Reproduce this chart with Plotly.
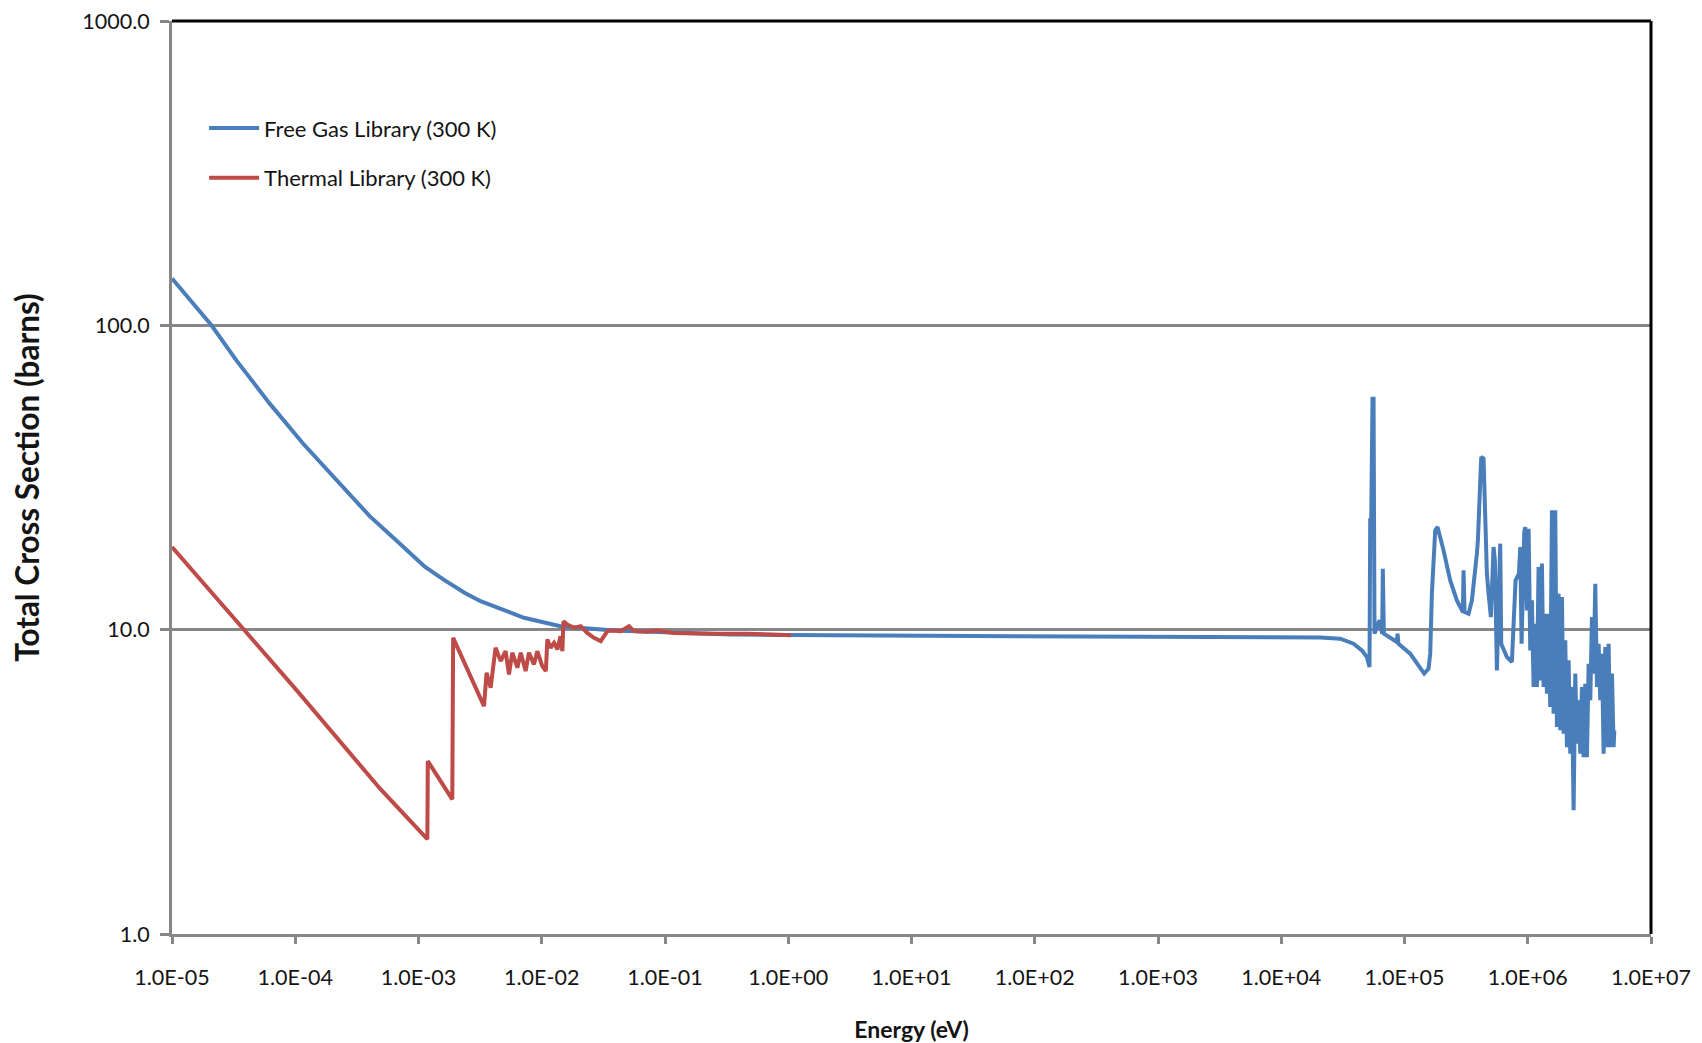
import plotly.graph_objects as go

# ---- data ----
# Free gas library, 1e-5 eV up to ~0.94 MeV
free_gas_energy = [1.0e-5, 2.09e-5, 3.33e-5, 6.21e-5, 1.156e-4, 2.16e-4, 4.02e-4, 6.82e-4, 1.125e-3,
                   1.6e-3, 2.38e-3, 3.19e-3, 7.18e-3, 1.42e-2, 3.86e-2, 1.0e-1, 3.4e-1, 1.0, 1.0e1,
                   1.0e2, 1.0e3, 1.0e4,
                   2.07e4, 3.01e4, 3.86e4, 4.51e4, 4.95e4, 5.20e4, 5.27e4, 5.37e4, 5.50e4, 5.61e4,
                   5.71e4, 5.97e4, 6.27e4, 6.59e4, 6.67e4, 6.80e4, 8.67e4, 8.78e4, 8.94e4, 1.112e5,
                   1.341e5, 1.445e5, 1.567e5, 1.617e5, 1.668e5, 1.720e5, 1.775e5, 1.854e5, 1.925e5,
                   2.074e5, 2.349e5, 2.661e5, 2.977e5, 3.014e5, 3.071e5, 3.309e5, 3.522e5, 3.633e5,
                   3.867e5, 3.940e5, 4.064e5, 4.193e5, 4.380e5, 4.519e5, 4.661e5, 4.809e5, 5.023e5,
                   5.279e5, 5.412e5, 5.619e5, 5.797e5, 5.980e5, 6.094e5, 6.774e5, 7.437e5, 7.770e5,
                   7.965e5, 8.478e5, 8.692e5, 8.911e5, 9.135e5, 9.365e5]
free_gas_xs = [142.6, 100.0, 76.7, 55.3, 40.9, 30.9, 23.6, 19.4, 16.1,
               14.6, 13.2, 12.4, 10.94, 10.27, 9.93, 9.8, 9.65, 9.6, 9.55,
               9.5, 9.45, 9.4,
               9.42, 9.34, 8.99, 8.55, 8.13, 7.54, 22.87, 22.87, 57.4, 57.4,
               9.70, 10.20, 10.73, 9.70, 15.86, 9.70, 9.11, 9.70, 8.99, 8.34,
               7.44, 7.17, 7.44, 8.34, 13.13, 17.77, 21.20, 21.75, 20.67,
               18.22, 14.52, 12.48, 11.43, 15.66, 11.43, 11.28, 12.48, 13.81,
               17.77, 19.66, 27.98, 36.93, 36.47, 19.66, 15.27, 13.13, 11.00,
               18.69, 16.90, 7.35, 13.13, 19.17, 8.99, 8.13, 7.83, 12.48,
               14.52, 15.27, 18.69, 8.99, 16.06, 20.94]

# Free gas library, dense resonance band ~0.95 MeV to ~5 MeV
free_gas_band_energy = [9.54e5, 9.85e5, 1.016e6, 1.048e6, 1.081e6, 1.115e6, 1.151e6, 1.187e6,
                        1.224e6, 1.263e6, 1.303e6, 1.344e6, 1.387e6, 1.431e6, 1.476e6, 1.522e6,
                        1.571e6, 1.621e6, 1.672e6, 1.725e6, 1.780e6, 1.836e6, 1.894e6, 1.954e6,
                        2.016e6, 2.079e6, 2.145e6, 2.213e6, 2.283e6, 2.355e6, 2.430e6, 2.506e6,
                        2.586e6, 2.668e6, 2.752e6, 2.839e6, 2.929e6, 3.021e6, 3.118e6, 3.216e6,
                        3.318e6, 3.423e6, 3.531e6, 3.643e6, 3.758e6, 3.877e6, 4.000e6, 4.126e6,
                        4.256e6, 4.391e6, 4.530e6, 4.673e6, 4.822e6, 4.974e6, 5.04e6]
free_gas_band_xs = [21.74, 11.57, 21.47, 8.55, 12.48, 6.48, 10.46, 6.48,
                    16.06, 6.81, 16.48, 6.48, 11.28, 6.16, 11.28, 5.57,
                    24.66, 5.29, 24.66, 4.79, 13.13, 4.67, 12.80, 4.55,
                    9.22, 4.11, 7.93, 3.91, 6.48, 2.55, 7.17, 4.22,
                    5.86, 3.91, 6.48, 3.81, 6.64, 3.81, 7.73, 5.86,
                    11.00, 7.17, 14.16, 6.48, 8.99, 5.86, 8.34, 3.91,
                    8.77, 4.11, 8.99, 4.11, 7.17, 4.11, 4.67]

thermal_energy = [1.0e-5, 1.0e-4, 4.92e-4, 1.18e-3, 1.19e-3, 1.88e-3, 1.91e-3, 3.40e-3, 3.57e-3,
                  3.85e-3, 4.22e-3, 4.64e-3, 5.09e-3, 5.42e-3, 5.77e-3, 6.34e-3, 6.75e-3, 7.40e-3,
                  7.87e-3, 8.65e-3, 9.20e-3, 1.01e-2, 1.08e-2, 1.11e-2, 1.18e-2, 1.26e-2, 1.34e-2,
                  1.42e-2, 1.47e-2, 1.50e-2, 1.61e-2, 1.83e-2, 2.07e-2, 2.34e-2, 2.65e-2, 3.01e-2,
                  3.41e-2, 3.86e-2, 4.37e-2, 5.10e-2, 5.61e-2, 7.19e-2, 8.67e-2, 0.118, 0.250,
                  0.466, 1.05]
thermal_xs = [18.7, 6.4, 2.99, 2.05, 3.70, 2.77, 9.40, 5.61, 7.22,
              6.44, 8.72, 7.88, 8.50, 7.13, 8.40, 7.50, 8.40, 7.31,
              8.40, 7.69, 8.50, 7.59, 7.31, 9.29, 8.72, 9.05, 8.61,
              9.52, 8.50, 10.66, 10.40, 10.14, 10.27, 9.76, 9.40, 9.17,
              9.89, 9.93, 9.89, 10.27, 9.89, 9.84, 9.93, 9.76, 9.69,
              9.69, 9.59]

assert len(free_gas_energy) == len(free_gas_xs)
assert len(free_gas_band_energy) == len(free_gas_band_xs)
assert len(thermal_energy) == len(thermal_xs)

x_tick_vals = [1e-5, 1e-4, 1e-3, 1e-2, 1e-1, 1e0, 1e1, 1e2, 1e3, 1e4, 1e5, 1e6, 1e7]
x_tick_text = ["1.0E-05", "1.0E-04", "1.0E-03", "1.0E-02", "1.0E-01", "1.0E+00", "1.0E+01",
               "1.0E+02", "1.0E+03", "1.0E+04", "1.0E+05", "1.0E+06", "1.0E+07"]
y_tick_vals = [1, 10, 100, 1000]
y_tick_text = ["1.0", "10.0", "100.0", "1000.0"]

series_names = ["Free Gas Library (300 K)", "Thermal Library (300 K)"]

fg_x = free_gas_energy + free_gas_band_energy
fg_y = free_gas_xs + free_gas_band_xs

BLUE = "#4a7ebb"
RED = "#be4b48"
GRAY = "#878787"
TXT = "#141414"
FONT = "Lato, Carlito, Calibri, sans-serif"

fig = go.Figure()
fig.add_trace(go.Scatter(x=fg_x, y=fg_y, mode="lines", name=series_names[0],
                         legendgroup="a", line=dict(color=BLUE, width=4)))
fig.add_trace(go.Scatter(x=thermal_energy, y=thermal_xs, mode="lines", name=series_names[1],
                         legendgroup="b", line=dict(color=RED, width=4)))

fig.update_layout(
    width=1694, height=1035,
    margin=dict(l=164, r=51, t=13, b=109, autoexpand=False),
    paper_bgcolor="white", plot_bgcolor="white",
    font=dict(family=FONT, size=21, color=TXT),
    showlegend=True,
    legend=dict(x=0.0217, y=0.9055, xanchor="left", yanchor="top",
                bgcolor="rgba(0,0,0,0)", font=dict(family=FONT, size=22, color=TXT),
                traceorder="grouped", tracegroupgap=18, itemwidth=50),
    xaxis=dict(type="log", range=[-5, 7], tickvals=x_tick_vals, ticktext=x_tick_text,
               showgrid=False, zeroline=False, showline=True, linecolor=GRAY, linewidth=3,
               ticks="outside", ticklen=7, tickwidth=3, tickcolor=GRAY, automargin=False,
               ticklabelstandoff=15, ticklabeloverflow="allow",
               tickfont=dict(family=FONT, size=21.5, color=TXT),
               title=dict(text="<b>Energy (eV)</b>", standoff=34,
                          font=dict(family=FONT, size=23, color=TXT))),
    yaxis=dict(type="log", range=[0, 3], tickvals=y_tick_vals, ticktext=y_tick_text,
               showgrid=True, gridcolor=GRAY, gridwidth=2.5, zeroline=False,
               showline=True, linecolor=GRAY, linewidth=3, automargin=False,
               ticks="outside", ticklen=9, tickwidth=3, tickcolor=GRAY,
               ticklabelstandoff=6, ticklabeloverflow="allow",
               tickfont=dict(family=FONT, size=21.5, color=TXT),
               title=dict(text="<b>Total Cross Section (barns)</b>", standoff=51,
                          font=dict(family=FONT, size=31.5, color=TXT))),
    shapes=[
        dict(type="line", xref="paper", yref="paper", x0=0, x1=1, y0=1, y1=1,
             line=dict(color="black", width=3)),
        dict(type="line", xref="paper", yref="paper", x0=1, x1=1, y0=0, y1=1,
             line=dict(color="black", width=3)),
    ],
)

fig.write_html("out.html")
